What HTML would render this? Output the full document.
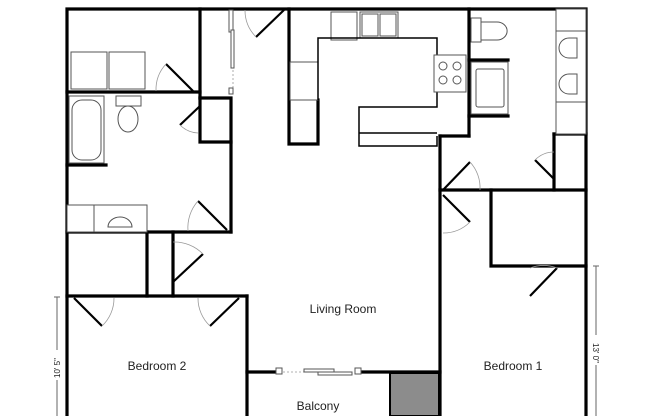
<!DOCTYPE html>
<html><head><style>
html,body{margin:0;padding:0;background:#fff;width:652px;height:416px;overflow:hidden}
svg{display:block}
text{font-family:"Liberation Sans",sans-serif;fill:#222}
</style></head><body>
<svg width="652" height="416" viewBox="0 0 652 416" xmlns="http://www.w3.org/2000/svg">
<g stroke="#000" stroke-width="3.2" fill="none" stroke-linecap="square">
<!-- outer -->
<polyline points="67,416 67,9 586,9 586,416"/>
<!-- left top block -->
<line x1="67" y1="92" x2="200" y2="92"/>
<line x1="200" y1="9" x2="200" y2="98"/>
<polyline points="200,98 231,98 231,232"/>
<polyline points="200,98 200,142 231,142"/>
<line x1="67" y1="232" x2="231" y2="232"/>
<line x1="67" y1="165" x2="106" y2="165"/>
<!-- kitchen -->
<polyline points="289,9 289,144 318,144 318,100"/>
<line x1="440" y1="136" x2="469" y2="136"/>
<line x1="469" y1="9" x2="469" y2="136"/>
<line x1="469" y1="60" x2="508" y2="60"/>
<line x1="469" y1="116" x2="508" y2="116"/>
<line x1="440" y1="136" x2="440" y2="416"/>
<!-- right -->
<line x1="440" y1="190" x2="586" y2="190"/>
<line x1="554" y1="134" x2="554" y2="190"/>
<line x1="554" y1="134" x2="586" y2="134"/>
<polyline points="491,190 491,266 586,266"/>
<!-- lower left -->
<line x1="147" y1="232" x2="147" y2="296"/>
<line x1="173" y1="232" x2="173" y2="296"/>
<line x1="67" y1="296" x2="247" y2="296"/>
<line x1="247" y1="296" x2="247" y2="416"/>
<line x1="247" y1="372" x2="278" y2="372"/>
<line x1="357" y1="372" x2="440" y2="372"/>
</g>
<rect x="390" y="373" width="49" height="43" fill="#8c8c8c" stroke="#000" stroke-width="2"/>
<!-- doors -->
<g stroke="#000" stroke-width="2.2">
<line x1="166" y1="64" x2="193" y2="91"/>
<line x1="180" y1="125" x2="200" y2="106"/>
<line x1="198" y1="201" x2="227" y2="230"/>
<line x1="256" y1="37" x2="284" y2="10"/>
<line x1="443" y1="190" x2="470" y2="162"/>
<line x1="535" y1="160" x2="554" y2="179"/>
<line x1="443" y1="195" x2="470" y2="222"/>
<line x1="530" y1="296" x2="557" y2="268"/>
<line x1="173" y1="282" x2="203" y2="254"/>
<line x1="74" y1="298" x2="102" y2="326"/>
<line x1="210" y1="326" x2="239" y2="298"/>
</g>
<g stroke="#999" stroke-width="0.8" fill="none">
<path d="M166,64 A38,38 0 0 0 156,91"/>
<path d="M180,125 A27,27 0 0 0 198,133"/>
<path d="M198,201 A40,40 0 0 0 188,231"/>
<path d="M256,37 A38,38 0 0 1 245,10"/>
<path d="M470,162 A38,38 0 0 1 480,190"/>
<path d="M535,160 A27,27 0 0 1 554,152"/>
<path d="M470,222 A38,38 0 0 1 443,233"/>
<path d="M557,268 A38,38 0 0 0 530,268"/>
<path d="M203,254 A40,40 0 0 0 173,242"/>
<path d="M102,326 A38,38 0 0 0 114,298"/>
<path d="M210,326 A38,38 0 0 1 198,298"/>
<line x1="233" y1="70" x2="233" y2="92" stroke-dasharray="2,2"/>
<line x1="283" y1="372" x2="330" y2="372" stroke-dasharray="2,2"/>
</g>
<!-- fixtures -->
<g stroke="#555" stroke-width="1" fill="#fff">
<rect x="71" y="52" width="36" height="37"/><rect x="109" y="52" width="36" height="37"/>
<rect x="69" y="96" width="35" height="67"/><rect x="72" y="100" width="29" height="60" rx="10"/>
<rect x="116" y="96" width="25" height="10"/><ellipse cx="128" cy="119" rx="10" ry="13"/>
<rect x="67" y="205" width="80" height="27"/><line x1="94" y1="205" x2="94" y2="232"/>
<path d="M108,227 a12,10 0 0 1 24,0 z"/>
<rect x="229" y="10" width="4" height="22"/><rect x="229" y="88" width="4" height="6"/>
<rect x="231" y="30" width="3" height="38"/>
<rect x="331" y="12" width="26" height="28" fill="#fff"/>
<rect x="360" y="12" width="38" height="26"/><rect x="362" y="14" width="16" height="22"/><rect x="380" y="14" width="16" height="22"/>
<rect x="290" y="62" width="28" height="38"/>
<polyline points="318,100 318,38 437,38 437,55" fill="none" stroke="#000" stroke-width="1.5"/>
<polyline points="437,92 437,107 359,107 359,146 437,146 437,136" fill="none" stroke="#000" stroke-width="1.5"/>
<line x1="359" y1="133" x2="437" y2="133" stroke="#000" stroke-width="1.5"/>
<rect x="434" y="55" width="32" height="37"/>
<circle cx="443" cy="66" r="4"/><circle cx="457" cy="66" r="4"/><circle cx="443" cy="80" r="4"/><circle cx="457" cy="80" r="4"/>
<rect x="471" y="18" width="10" height="24"/><path d="M481,22 h16 a9,8 0 0 1 0,18 h-16 z"/>
<rect x="471" y="62" width="37" height="52"/><rect x="476" y="69" width="28" height="38" rx="2"/>
<rect x="556" y="9" width="30" height="125"/><line x1="556" y1="31" x2="586" y2="31"/><line x1="556" y1="102" x2="586" y2="102"/>
<path d="M577,38 h-8 a10,10 0 0 0 0,20 h8 z"/><path d="M577,74 h-8 a10,10 0 0 0 0,20 h8 z"/>
<rect x="276" y="368" width="6" height="6"/><rect x="355" y="368" width="6" height="6"/>
<rect x="304" y="369" width="30" height="3"/><rect x="318" y="372" width="34" height="3"/>
</g>
<!-- dimensions -->
<g stroke="#666" stroke-width="1">
<line x1="57" y1="297" x2="57" y2="350"/><line x1="57" y1="380" x2="57" y2="416"/><line x1="54" y1="297" x2="60" y2="297"/>
<line x1="596" y1="266" x2="596" y2="335"/><line x1="596" y1="365" x2="596" y2="416"/><line x1="593" y1="266" x2="599" y2="266"/>
</g>
<text x="0" y="0" font-size="8" transform="translate(60,378) rotate(-90)">10' 5"</text>
<text x="0" y="0" font-size="8" transform="translate(593,343) rotate(90)">13' 0"</text>
<text x="343" y="313" font-size="12" text-anchor="middle">Living Room</text>
<text x="157" y="370" font-size="12" text-anchor="middle">Bedroom 2</text>
<text x="513" y="370" font-size="12" text-anchor="middle">Bedroom 1</text>
<text x="318" y="410" font-size="12" text-anchor="middle">Balcony</text>
</svg>
</body></html>
